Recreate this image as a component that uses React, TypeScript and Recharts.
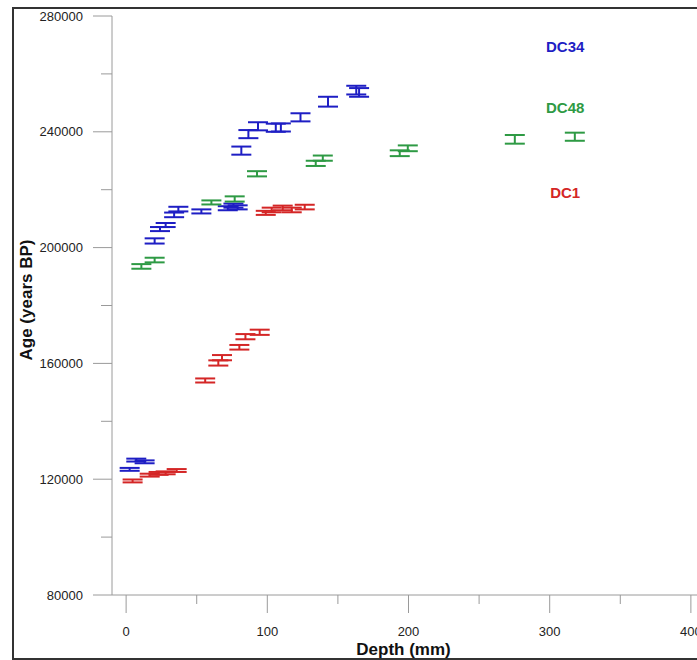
import React from "react";
import { ScatterChart, Scatter, XAxis, YAxis, ErrorBar, ReferenceDot } from "recharts";

const FONT = "Arial, 'Liberation Sans', sans-serif";
const AXIS = "#9a9a9a";
const BLUE = "#1e1ec4";
const GREEN = "#2e9a44";
const RED = "#d42626";

const depthTicks = [0, 50, 100, 150, 200, 250, 300, 350, 400];
const ageTicks = [80000, 100000, 120000, 140000, 160000, 180000, 200000, 220000, 240000, 260000, 280000];

// DC34
const dc34Depth = [2.5, 7.2, 13.1, 20.2, 24, 28, 34, 37, 53.3, 72, 76, 79, 81.6, 86.6, 93.4, 106, 109.6, 123.5, 143, 163, 165];
const dc34Age = [123400, 126600, 126000, 202300, 206400, 207800, 211300, 213300, 212500, 213600, 214500, 213900, 233500, 239200, 241900, 241400, 241500, 245000, 250400, 254400, 253600];
const dc34Err = [500, 500, 500, 900, 700, 700, 800, 800, 700, 700, 700, 700, 1400, 1400, 1400, 1400, 1400, 1400, 1700, 1500, 1500];

// DC48
const dc48Depth = [10.8, 20.2, 60.4, 76.9, 92.7, 134.3, 139.3, 193.8, 199.5, 275.3, 317.8];
const dc48Age = [193500, 195700, 215600, 216800, 225500, 229100, 230900, 232600, 234300, 237400, 238300];
const dc48Err = [800, 800, 700, 900, 900, 900, 900, 1000, 1000, 1500, 1400];

// DC1
const dc1Depth = [4.6, 16.7, 23, 28, 35.8, 56, 65.3, 67.9, 80.2, 84.5, 94.6, 98.9, 103.1, 110.9, 117.3, 126.5];
const dc1Age = [119400, 121400, 122000, 122200, 123000, 154100, 160150, 161980, 165570, 169230, 170750, 212000, 213000, 213700, 213000, 214000];
const dc1Err = [500, 500, 500, 500, 500, 700, 900, 900, 800, 900, 900, 700, 800, 800, 800, 800];

const seriesLabels = ["DC34", "DC48", "DC1"];
const labelDepth = [311, 311, 311];
const labelAge = [269300, 248200, 218900];

const toPoints = (depth: number[], age: number[], err: number[]) =>
  depth.map((d, i) => ({ depth: d, age: age[i], err: err[i] }));

const dc34 = toPoints(dc34Depth, dc34Age, dc34Err);
const dc48 = toPoints(dc48Depth, dc48Age, dc48Err);
const dc1 = toPoints(dc1Depth, dc1Age, dc1Err);

const XTick = (props: any) => {
  const { x, y, payload } = props;
  const major = payload.value % 100 === 0;
  return (
    <g>
      <line x1={x} x2={x} y1={y} y2={y + (major ? 18 : 9)} stroke={AXIS} strokeWidth={1} />
      {major && (
        <text x={x} y={y + 36} textAnchor="middle" dominantBaseline="central" fontSize={13} fill="#222" fontFamily={FONT}>
          {payload.value}
        </text>
      )}
    </g>
  );
};

const YTick = (props: any) => {
  const { x, y, payload } = props;
  const major = (payload.value - 80000) % 40000 === 0;
  return (
    <g>
      <line x1={x - (major ? 19 : 11)} x2={x} y1={y} y2={y} stroke={AXIS} strokeWidth={1} />
      {major && (
        <text x={x - 29} y={y} textAnchor="end" dominantBaseline="central" fontSize={13} fill="#222" fontFamily={FONT}>
          {payload.value}
        </text>
      )}
    </g>
  );
};

const noDot = () => <g />;

export default function App() {
  const colors = [BLUE, GREEN, RED];
  return (
    <div style={{ position: "absolute", left: 0, top: 0, width: 697, height: 660, overflow: "hidden", background: "#fff" }}>
      <div
        style={{
          position: "absolute",
          left: 12,
          top: 7,
          width: 720,
          height: 653,
          border: "2px solid #333",
          boxSizing: "border-box",
        }}
      />
      <div style={{ position: "absolute", left: 0, top: 0 }}>
        <ScatterChart width={705} height={660} margin={{ top: 16, right: 0, bottom: 0, left: 0 }}>
          <XAxis
            type="number"
            dataKey="depth"
            domain={[-10, 410]}
            ticks={depthTicks}
            interval={0}
            allowDataOverflow
            height={65}
            tickSize={0}
            tickMargin={0}
            tick={<XTick />}
            axisLine={{ stroke: AXIS }}
            label={{
              value: "Depth (mm)",
              position: "insideBottom",
              offset: 5,
              dx: -5,
              fontSize: 17,
              fontWeight: "bold",
              fill: "#111",
              fontFamily: FONT,
            }}
          />
          <YAxis
            type="number"
            dataKey="age"
            domain={[80000, 280000]}
            ticks={ageTicks}
            interval={0}
            allowDataOverflow
            width={112}
            tickSize={0}
            tickMargin={0}
            tick={<YTick />}
            axisLine={{ stroke: AXIS }}
            label={{
              content: () => (
                <text
                  transform="translate(26,300) rotate(-90)"
                  textAnchor="middle"
                  dominantBaseline="central"
                  fontSize={17}
                  fontWeight="bold"
                  fill="#111"
                  fontFamily={FONT}
                >
                  Age (years BP)
                </text>
              ),
            }}
          />
          <Scatter data={dc34} fill={BLUE} shape={noDot} isAnimationActive={false}>
            <ErrorBar dataKey="err" direction="y" width={10} stroke={BLUE} strokeWidth={2} isAnimationActive={false} />
          </Scatter>
          <Scatter data={dc48} fill={GREEN} shape={noDot} isAnimationActive={false}>
            <ErrorBar dataKey="err" direction="y" width={10} stroke={GREEN} strokeWidth={2} isAnimationActive={false} />
          </Scatter>
          <Scatter data={dc1} fill={RED} shape={noDot} isAnimationActive={false}>
            <ErrorBar dataKey="err" direction="y" width={10} stroke={RED} strokeWidth={2} isAnimationActive={false} />
          </Scatter>
          {seriesLabels.map((name, i) => (
            <ReferenceDot
              key={name}
              x={labelDepth[i]}
              y={labelAge[i]}
              r={0}
              fill="none"
              stroke="none"
              label={{
                value: name,
                position: "center",
                fill: colors[i],
                fontSize: 15,
                fontWeight: "bold",
                fontFamily: FONT,
              }}
            />
          ))}
        </ScatterChart>
      </div>
    </div>
  );
}
